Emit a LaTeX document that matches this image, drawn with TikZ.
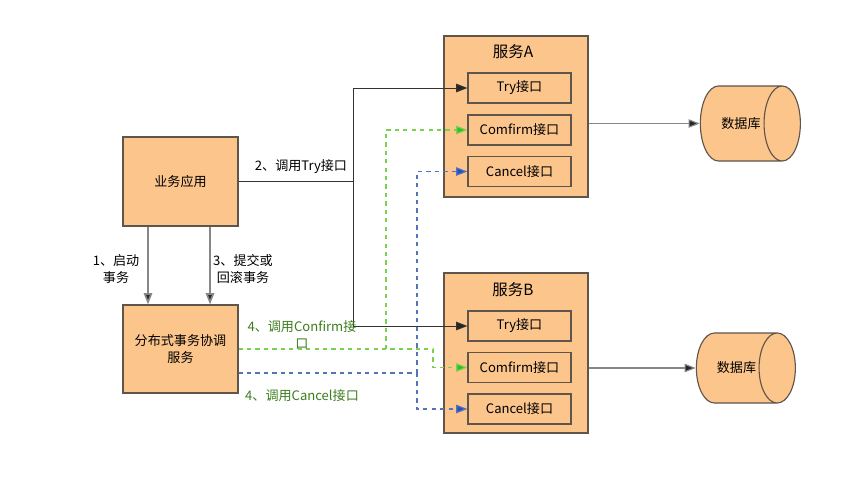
\documentclass[tikz,border=0pt]{standalone}
\usepackage{fontspec}
\setmainfont{Noto Sans CJK SC}
\usetikzlibrary{arrows.meta,shapes.geometric}

\definecolor{boxfill}{RGB}{252,197,140}
\definecolor{boxline}{RGB}{95,85,75}
\definecolor{cfmgreen}{RGB}{120,210,80}
\definecolor{cfmhead}{RGB}{50,190,40}
\definecolor{cclblue}{RGB}{85,115,185}
\definecolor{cclhead}{RGB}{35,80,200}
\definecolor{labgreen}{RGB}{60,125,30}
\definecolor{linegray}{RGB}{135,135,135}

\tikzset{
  box/.style={draw=boxline,fill=boxfill,line width=0.8pt,inner sep=0pt,align=center},
  ifc/.style={box,minimum width=2.575cm,minimum height=0.75cm},
  db/.style={box,shape=cylinder,aspect=3,minimum width=1.875cm,minimum height=2.5cm},
  title/.style={font=\fontsize{11}{13}\selectfont},
  lab/.style={align=center},
  tip/.style={-{Triangle[length=8pt,width=6pt,fill=#1]}},
  tryline/.style={line width=0.7pt,draw=black!80},
  cfm/.style={line width=0.8pt,draw=cfmgreen,dashed},
  ccl/.style={line width=0.8pt,draw=cclblue,dashed},
  grayline/.style={line width=1.2pt,draw=linegray}
}

\begin{document}
\begin{tikzpicture}[x=0.025cm,y=-0.025cm,font=\fontsize{9.3}{12}\selectfont]
\useasboundingbox (0,0) rectangle (868,489);

% business app and coordinator
\node(app)   at (180.5,181.5)[box,minimum width=2.875cm,minimum height=2.225cm] {业务应用};
\node(coord) at (180.5,349)  [box,minimum width=2.875cm,minimum height=2.2cm]   {分布式事务协调\\服务};

% service A
\node(svcA)  at (516,116.5)[box,minimum width=3.6cm,minimum height=4.025cm] {};
\node(titleA) at (513,52)[title] {服务A};
\node(tryA)  at (519.5,88)   [ifc] {Try接口};
\node(cfmA)  at (519.5,130)  [ifc] {Comfirm接口};
\node(cclA)  at (519.5,171.5)[ifc] {Cancel接口};

% service B
\node(svcB)  at (516,353)[box,minimum width=3.6cm,minimum height=4cm] {};
\node(titleB) at (513,290)[title] {服务B};
\node(tryB)  at (519.5,326)  [ifc] {Try接口};
\node(cfmB)  at (519.5,367.5)[ifc] {Comfirm接口};
\node(cclB)  at (519.5,409)  [ifc] {Cancel接口};

% databases
\node(dbA) at (741,123.5)[db] {数据库};
\node(dbB) at (736.5,368)[db,minimum width=1.75cm,minimum height=2.475cm] {数据库};

% junctions
\coordinate(s1) at (148,0);
\coordinate(s3) at (210,0);
\coordinate(tj)  at (353,181.5);
\coordinate(cj)  at (386,349);
\coordinate(cj2) at (433,349);
\coordinate(bj)  at (417,373);

% 1 and 3
\draw[grayline,tip=black!85] (app.south -| s1) -- (coord.north -| s1);
\draw[grayline,tip=black!85] (app.south -| s3) -- (coord.north -| s3);
\node(lab1) at (116,269)[lab] {1、启动\\事务};
\node(lab3) at (243,269)[lab] {3、提交或\\回滚事务};

% 2: try
\draw[tryline] (app.east) -- (tj);
\draw[tryline,tip=black!85] (tj) |- (tryA.west);
\draw[tryline,tip=black!85] (tj) |- (tryB.west);
\node(lab2) at (301,167) {2、调用Try接口};

% 4: confirm
\draw[cfm] (coord.east) -- (cj2);
\draw[cfm,tip=cfmhead] (cj) |- (cfmA.west);
\draw[cfm,tip=cfmhead] (cj2) |- (cfmB.west);
\node(lab4a) at (302,335)[lab,text=labgreen] {4、调用Confirm接\\口};

% 4: cancel
\draw[ccl] (coord.east |- bj) -- (bj);
\draw[ccl,tip=cclhead] (bj) |- (cclA.west);
\draw[ccl,tip=cclhead] (bj) |- (cclB.west);
\node(lab4b) at (302,396)[text=labgreen] {4、调用Cancel接口};

% to databases
\draw[grayline,line width=0.8pt,tip=black!85] (svcA.east |- dbA) -- (dbA.west);
\draw[grayline,line width=0.8pt,tip=black!85] (svcB.east |- dbB) -- (dbB.west);
\end{tikzpicture}
\end{document}
